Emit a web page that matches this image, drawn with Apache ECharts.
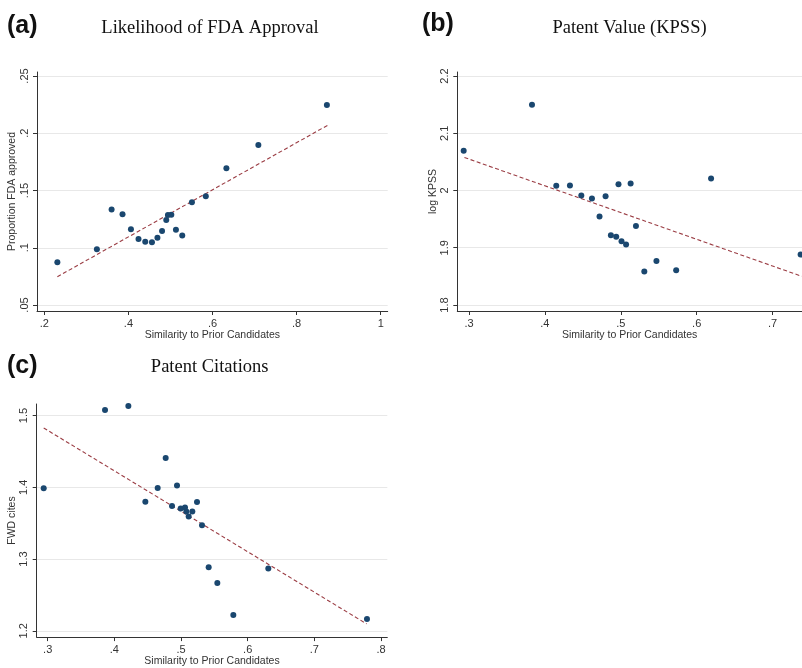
<!DOCTYPE html>
<html>
<head>
<meta charset="utf-8">
<script src="https://cdn.jsdelivr.net/npm/echarts@6/dist/echarts.min.js"></script>
<style>
  html, body { margin: 0; padding: 0; background: #ffffff; }
  #chart { width: 802px; height: 668px; }
</style>
</head>
<body>
<div id="chart"></div>
<script>
// (a) Likelihood of FDA approval vs. similarity to prior candidates
const simA = [0.231, 0.325, 0.360, 0.386, 0.406, 0.424, 0.440, 0.456, 0.469, 0.480,
              0.490, 0.494, 0.502, 0.513, 0.528, 0.551, 0.584, 0.633, 0.709, 0.872];
const fdaA = [0.0873, 0.0986, 0.1333, 0.1292, 0.1161, 0.1076, 0.1053, 0.1047, 0.1088, 0.1146,
              0.1242, 0.1286, 0.1289, 0.1158, 0.1108, 0.1397, 0.1449, 0.1694, 0.1897, 0.2247];
const fitAx = [0.231, 0.875];
const fitAy = [0.0747, 0.2072];

// (b) log KPSS patent value
const simB = [0.293, 0.383, 0.415, 0.433, 0.448, 0.462, 0.480, 0.472, 0.487, 0.494,
              0.497, 0.501, 0.507, 0.513, 0.520, 0.531, 0.547, 0.573, 0.619, 0.737];
const kpssB = [2.0694, 2.1499, 2.0082, 2.0087, 1.9913, 1.9860, 1.9901, 1.9545, 1.9219, 1.9190,
               2.0111, 1.9114, 1.9055, 2.0122, 1.9382, 1.8583, 1.8770, 1.8606, 2.0210, 1.8880];
const fitBx = [0.294, 0.7385];
const fitBy = [2.0577, 1.8501];

// (c) forward citations
const simC = [0.294, 0.386, 0.421, 0.4465, 0.465, 0.477, 0.4865, 0.494, 0.4995, 0.506,
              0.508, 0.5115, 0.517, 0.524, 0.5315, 0.5415, 0.5545, 0.5785, 0.631, 0.779];
const citesC = [1.3986, 1.5078, 1.5132, 1.3799, 1.3991, 1.4406, 1.3740, 1.4023, 1.3703, 1.3717,
                1.3662, 1.3594, 1.3662, 1.3795, 1.3470, 1.2886, 1.2667, 1.2219, 1.2868, 1.2164];
const fitCx = [0.294, 0.7785];
const fitCy = [1.4826, 1.2096];

// tick values and their printed labels
const xTicksA = [0.2, 0.4, 0.6, 0.8, 1];
const xLabelsA = ['.2', '.4', '.6', '.8', '1'];
const yTicksA = [0.05, 0.1, 0.15, 0.2, 0.25];
const yLabelsA = ['.05', '.1', '.15', '.2', '.25'];
const xTicksB = [0.3, 0.4, 0.5, 0.6, 0.7];
const xLabelsB = ['.3', '.4', '.5', '.6', '.7'];
const yTicksB = [1.8, 1.9, 2.0, 2.1, 2.2];
const yLabelsB = ['1.8', '1.9', '2', '2.1', '2.2'];
const xTicksC = [0.3, 0.4, 0.5, 0.6, 0.7, 0.8];
const xLabelsC = ['.3', '.4', '.5', '.6', '.7', '.8'];
const yTicksC = [1.2, 1.3, 1.4, 1.5];
const yLabelsC = ['1.2', '1.3', '1.4', '1.5'];

const NAVY = '#1a476f';
const MAROON = '#9b3d44';
const AXIS = '#333333';
const GRIDLINE = '#e8e8e8';
const SANS = '"Liberation Sans", Arial, sans-serif';
const SERIF = '"Liberation Serif", "Times New Roman", serif';

function labeler(ticks, labels) {
  return function (v) {
    for (let i = 0; i < ticks.length; i++) {
      if (Math.abs(ticks[i] - v) < 1e-6) return labels[i];
    }
    return '';
  };
}

function xAxisFor(gridIndex, min, max, ticks, labels) {
  return {
    type: 'value', gridIndex, min, max,
    name: 'Similarity to Prior Candidates',
    nameLocation: 'middle', nameGap: 16,
    nameTextStyle: { fontFamily: SANS, fontSize: 10.5, color: '#333' },
    axisLine: { show: true, onZero: false, lineStyle: { color: AXIS, width: 1 } },
    axisTick: { show: true, length: 4, customValues: ticks, lineStyle: { color: AXIS } },
    axisLabel: { customValues: ticks, formatter: labeler(ticks, labels), margin: 7,
                 fontFamily: SANS, fontSize: 11, color: '#333' },
    splitLine: { show: false }
  };
}

function yAxisFor(gridIndex, min, max, ticks, labels, name) {
  return {
    type: 'value', gridIndex, min, max,
    name, nameLocation: 'middle', nameGap: 18, nameRotate: 90,
    nameTextStyle: { fontFamily: SANS, fontSize: 10.5, color: '#333' },
    axisLine: { show: true, onZero: false, lineStyle: { color: AXIS, width: 1 } },
    axisTick: { show: true, length: 4, customValues: ticks, lineStyle: { color: AXIS } },
    axisLabel: { customValues: ticks, formatter: labeler(ticks, labels), rotate: 90, margin: 7,
                 fontFamily: SANS, fontSize: 11, color: '#333' },
    splitLine: { show: true, lineStyle: { color: GRIDLINE, width: 1 } }
  };
}

function pairs(xs, ys) { return xs.map((x, i) => [x, ys[i]]); }

function scatterFor(idx, xs, ys) {
  return {
    type: 'scatter', xAxisIndex: idx, yAxisIndex: idx,
    data: pairs(xs, ys), symbol: 'circle', symbolSize: 6,
    itemStyle: { color: NAVY, opacity: 1 }, clip: false, silent: true, z: 3
  };
}

function fitFor(idx, xs, ys) {
  return {
    type: 'line', xAxisIndex: idx, yAxisIndex: idx,
    data: pairs(xs, ys), showSymbol: false, symbol: 'none',
    lineStyle: { color: MAROON, width: 1.1, type: [4, 2.5] }, silent: true, z: 2
  };
}

function textEl(text, x, y, font, align) {
  return {
    type: 'text', silent: true,
    style: { text, x, y, font, fill: '#111', textAlign: align || 'center', textVerticalAlign: 'middle' }
  };
}

const chart = echarts.init(document.getElementById('chart'), null, { renderer: 'canvas' });

chart.setOption({
  animation: false,
  backgroundColor: '#ffffff',
  grid: [
    { left: 37, top: 72, width: 350.7, height: 239 },
    { left: 457.3, top: 72, width: 344.7, height: 239 },
    { left: 36.7, top: 404, width: 350.6, height: 236.7 }
  ],
  xAxis: [
    xAxisFor(0, 0.1826, 1.0166, xTicksA, xLabelsA),
    xAxisFor(1, 0.2846, 0.7388, xTicksB, xLabelsB),
    xAxisFor(2, 0.2835, 0.8095, xTicksC, xLabelsC)
  ],
  yAxis: [
    yAxisFor(0, 0.04476, 0.2535, yTicksA, yLabelsA, 'Proportion FDA approved'),
    yAxisFor(1, 1.7895, 2.207, yTicksB, yLabelsB, 'log KPSS'),
    yAxisFor(2, 1.1912, 1.516, yTicksC, yLabelsC, 'FWD cites')
  ],
  series: [
    fitFor(0, fitAx, fitAy), scatterFor(0, simA, fdaA),
    fitFor(1, fitBx, fitBy), scatterFor(1, simB, kpssB),
    fitFor(2, fitCx, fitCy), scatterFor(2, simC, citesC)
  ],
  graphic: [
    textEl('(a)', 7, 26, 'bold 25px ' + SANS, 'left'),
    textEl('Likelihood of FDA Approval', 210, 28, '18.5px ' + SERIF),
    textEl('(b)', 422, 24, 'bold 25px ' + SANS, 'left'),
    textEl('Patent Value (KPSS)', 629.5, 28, '18.5px ' + SERIF),
    textEl('(c)', 7, 366, 'bold 25px ' + SANS, 'left'),
    textEl('Patent Citations', 209.7, 367, '18.5px ' + SERIF)
  ]
});
</script>
</body>
</html>
